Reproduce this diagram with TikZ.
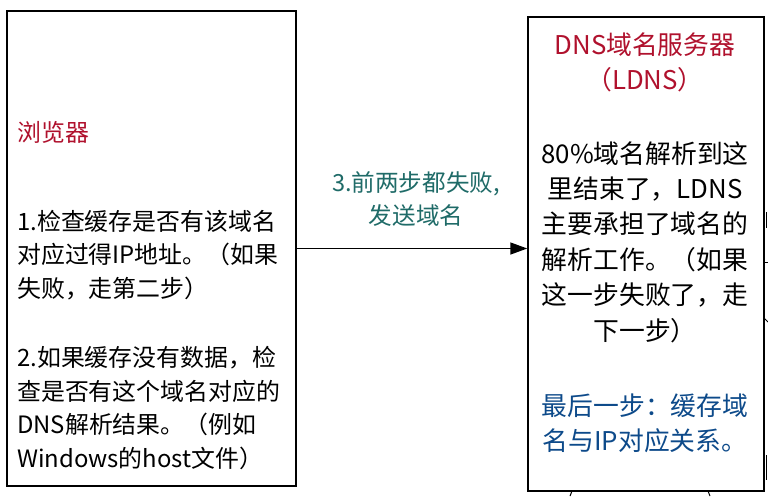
\documentclass[tikz,border=0pt]{standalone}
\usepackage{fontspec}
\setmainfont{Noto Sans CJK SC}
\usetikzlibrary{arrows.meta}
\definecolor{titlered}{HTML}{B0112D}
\definecolor{labelteal}{HTML}{1F6B68}
\definecolor{noteblue}{HTML}{0D4A8A}
\tikzset{
  boxnode/.style={draw=black, line width=1.5pt, fill=white, inner sep=0pt},
  lefttext/.style={inner sep=0pt, anchor=west, align=left, font=\fontsize{23.9}{33.8}\selectfont},
  righttext/.style={inner sep=0pt, align=center, font=\fontsize{25.8}{35.4}\selectfont},
  midtext/.style={inner sep=0pt, align=center, font=\fontsize{23.6}{33}\selectfont, text=labelteal},
  arr/.style={draw=black, line width=1.5pt, -{Triangle[length=17pt,width=12pt]}},
  stub/.style={draw=black, line width=1pt}
}
\begin{document}
\begin{tikzpicture}[x=1pt,y=-1pt]
\useasboundingbox (0,0) rectangle (768,496);
\fill[white] (0,0) rectangle (768,496);
% boxes
\node[boxnode, minimum width=289pt, minimum height=475pt] (browser) at (151.5,248.5) {};
\node[boxnode, minimum width=236pt, minimum height=474pt] (ldns) at (646,254) {};
% left texts
\node[lefttext, text=titlered] (btitle) at (17,132) {浏览器};
\node[lefttext] (bstep1) at (17,255) {1.检查缓存是否有该域名\\对应过得IP地址。（如果\\失败，走第二步）};
\node[lefttext] (bstep2) at (17,408) {2.如果缓存没有数据，检\\查是否有这个域名对应的\\DNS解析结果。（例如\\Windows的host文件）};
% right texts
\node[righttext, text=titlered] (ltitle) at (645,62.5) {DNS域名服务器\\（LDNS）};
\node[righttext] (lbody) at (645,242) {80\%域名解析到这\\里结束了，LDNS\\主要承担了域名的\\解析工作。（如果\\这一步失败了，走\\下一步）};
\node[righttext, text=noteblue] (lnote) at (645,423.5) {最后一步：缓存域\\名与IP对应关系。};
% connector
\draw[arr] (browser.east) -- (browser.east -| ldns.west);
\node[midtext] (steplabel) at (416,199) {3.前两步都失败,\\发送域名};
% cut-off connector fragments at the picture edges
\coordinate (f1) at (766,212);
\coordinate (f2) at (766,228);
\draw[stub] (f1) -- (f2);
\coordinate (f3) at (764,262);
\coordinate (f4) at (768,262);
\draw[stub] (f3) -- (f4);
\coordinate (f5) at (764,318);
\coordinate (f6) at (768,322);
\draw[stub] (f5) -- (f6);
\coordinate (f7) at (766,455);
\coordinate (f8) at (766,480);
\draw[stub] (f7) -- (f8);
\coordinate (f9) at (572,491);
\coordinate (f10) at (570,496);
\draw[stub] (f9) -- (f10);
\coordinate (f11) at (708,491);
\coordinate (f12) at (710,496);
\draw[stub] (f11) -- (f12);
\end{tikzpicture}
\end{document}
